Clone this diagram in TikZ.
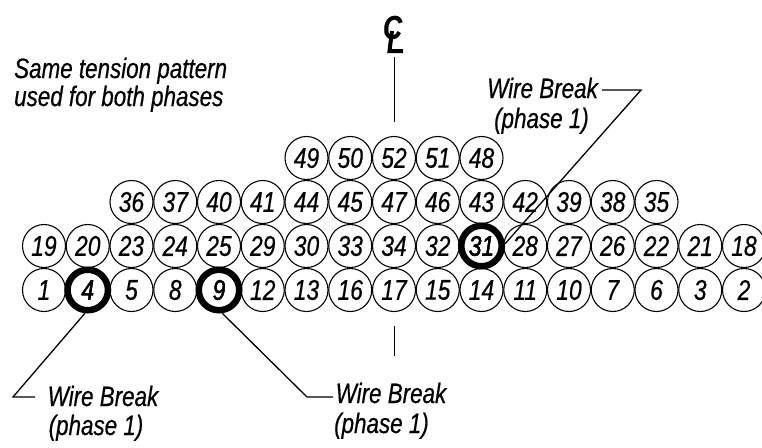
\documentclass[tikz,border=0pt]{standalone}
\usepackage{fontspec}
\setmainfont[FakeStretch=0.8,FakeBold=0.5]{Liberation Sans}
\begin{document}
\begin{tikzpicture}[x=1pt,y=-1pt,
  wire/.style={circle,draw,line width=1.1pt,minimum size=43pt,inner sep=0pt,
    font=\fontsize{28.5}{32}\selectfont\itshape},
  brokenwire/.style={wire,line width=6.5pt,minimum size=40.5pt},
  lbl/.style={inner sep=0pt,anchor=base,font=\fontsize{28}{32}\selectfont\itshape},
  leader/.style={line width=1.3pt},
  cl/.style={inner sep=0pt,font=\fontsize{33}{34}\selectfont\bfseries\itshape}]
\useasboundingbox (0,0) rectangle (762,447);
% row 1
\foreach \n [count=\i from 0] in {1,4,5,8,9,12,13,16,17,15,14,11,10,7,6,3,2}
  \node[wire] (c\n) at ({44+43.75*\i},290) {\n};
% row 2
\foreach \n [count=\i from 0] in {19,20,23,24,25,29,30,33,34,32,31,28,27,26,22,21,18}
  \node[wire] (c\n) at ({44+43.75*\i},246) {\n};
% row 3
\foreach \n [count=\i from 2] in {36,37,40,41,44,45,47,46,43,42,39,38,35}
  \node[wire] (c\n) at ({44+43.75*\i},202) {\n};
% row 4
\foreach \n [count=\i from 6] in {49,50,52,51,48}
  \node[wire] (c\n) at ({44+43.75*\i},158) {\n};
% broken wires
\node[brokenwire] (b4) at (c4) {4};
\node[brokenwire] (b9) at (c9) {9};
\node[brokenwire] (b31) at (c31) {31};
% centerline symbol
\node[cl] (clC) at (392.5,27.5) {C};
\coordinate (clL1) at (392,31);
\coordinate (clL2) at (389.5,51);
\coordinate (clL3) at (403,51);
\draw[line width=4pt,line join=miter] (clL1) -- (clL2) -- (clL3);
\coordinate (clt1) at (394.5,57);
\coordinate (clt2) at (394.5,122);
\coordinate (clb1) at (394.5,326);
\coordinate (clb2) at (394.5,356);
\draw[line width=1.2pt] (clt1) -- (clt2);
\draw[line width=1.2pt] (clb1) -- (clb2);
% note
\node[lbl,anchor=base west] (n1) at (14,78) {Same tension pattern};
\node[lbl,anchor=base west] (n2) at (14,106) {used for both phases};
% leader to 4
\coordinate (k4a) at (13,397);
\coordinate (k4b) at (35,397);
\draw[leader] (b4.-97) -- (k4a) -- (k4b);
\node[lbl] (w4a) at (103,406) {Wire Break};
\node[lbl] (w4b) at (96,435) {(phase 1)};
% leader to 9
\coordinate (k9a) at (307,397);
\coordinate (k9b) at (333,397);
\draw[leader] (b9.-82) -- (k9a) -- (k9b);
\node[lbl] (w9a) at (391,403) {Wire Break};
\node[lbl] (w9b) at (381.5,433) {(phase 1)};
% leader to 31
\coordinate (k31a) at (641,90);
\coordinate (k31b) at (602,90);
\draw[leader] (b31.5) -- (k31a) -- (k31b);
\node[lbl] (w31a) at (542.5,98) {Wire Break};
\node[lbl] (w31b) at (541.5,128) {(phase 1)};
\end{tikzpicture}
\end{document}
